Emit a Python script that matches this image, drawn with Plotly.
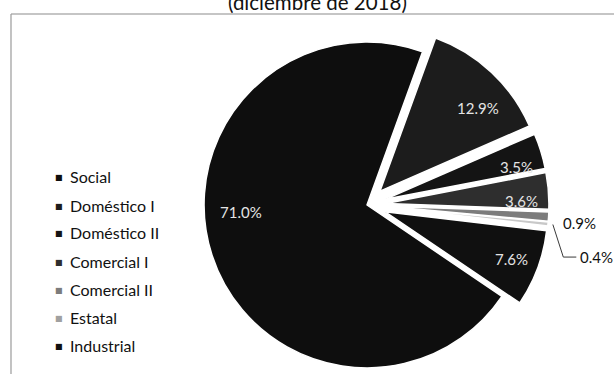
import math
import plotly.graph_objects as go

# Distribución por tarifa (diciembre de 2018)
categorias = ["Social", "Doméstico I", "Doméstico II", "Comercial I",
              "Comercial II", "Estatal", "Industrial"]
porcentajes = [71.0, 12.9, 3.5, 3.6, 0.9, 0.4, 7.6]
titulo = "(diciembre de 2018)"

# Estilo de cada sector
colores = ["#0e0e0e", "#1c1c1c", "#141414", "#2e2e2e", "#7c7c7c", "#c8c8c8", "#101010"]
separacion = [0.0, 0.117, 0.117, 0.117, 0.117, 0.117, 0.117]
# Ubicación de cada etiqueta: fracción del radio, ajuste angular (grados), dentro/fuera
pos_etiqueta = [(0.773, 14.8, "in"), (0.785, 6.5, "in"), (0.83, 3.5, "in"),
                (0.83, 3.3, "in"), (1.19, 1.3, "out"), (1.22, 8.6, "leader"),
                (0.83, 0.0, "in")]

W, H = 614, 410          # lienzo completo; la vista muestra los primeros 374 px
ROTACION = 124.1
dom_x = [0.3013, 0.8941]
FUENTE = "Lato, 'Open Sans', sans-serif"

fig = go.Figure(go.Pie(
    labels=categorias, values=porcentajes, sort=False, direction="clockwise",
    rotation=ROTACION, pull=separacion,
    marker=dict(colors=colores, line=dict(color="white", width=1.5)),
    textinfo="none", hoverinfo="label+percent", showlegend=False,
    domain=dict(x=dom_x, y=[0, 1]),
))

# Geometría del pastel según la misma regla que usa plotly
cx = W * (dom_x[0] + dom_x[1]) / 2
cy = H / 2
R = min(W * (dom_x[1] - dom_x[0]), H) / 2 / (1 + max(separacion))


def px(x):
    return x / W


def py(y):
    return 1 - y / H


def punto(ang, r, origen):
    a = math.radians(ang)
    return origen[0] + r * math.sin(a), origen[1] - r * math.cos(a)


anotaciones = []
formas = []
total = sum(porcentajes)
inicio = ROTACION
for v, p, (fr, dang, modo) in zip(porcentajes, separacion, pos_etiqueta):
    amplitud = 360 * v / total
    medio = inicio + amplitud / 2
    inicio += amplitud
    vertice = punto(medio, p * R, (cx, cy))
    lx, ly = punto(medio + dang, fr * R, vertice)
    texto = f"{v:.1f}%"
    if modo == "in":
        anotaciones.append(dict(x=px(lx), y=py(ly), text=texto, showarrow=False,
                                xanchor="center", yanchor="middle",
                                font=dict(family=FUENTE, size=15, color="#e4e4e4")))
    elif modo == "out":
        anotaciones.append(dict(x=px(lx), y=py(ly), text=texto, showarrow=False,
                                xanchor="center", yanchor="middle",
                                font=dict(family=FUENTE, size=15, color="#111111")))
    else:
        anotaciones.append(dict(x=px(lx), y=py(ly), text=texto, showarrow=False,
                                xanchor="left", yanchor="middle",
                                font=dict(family=FUENTE, size=15, color="#111111")))
        bx, by = punto(medio, R * 1.03, vertice)
        ex = lx - 15
        camino = (f"M{px(bx)},{py(by)} L{px(ex)},{py(ly)} L{px(lx - 2)},{py(ly)}")
        formas.append(dict(type="path", xref="paper", yref="paper", path=camino,
                           line=dict(color="#3a3a3a", width=1)))

# Leyenda a la izquierda
LEY_X, LEY_Y0, LEY_DY = 59, 177, 28
for i, (nombre, color) in enumerate(zip(categorias, colores)):
    yy = LEY_Y0 + LEY_DY * i
    anotaciones.append(dict(x=px(LEY_X), y=py(yy + 1), text="■", showarrow=False,
                            xanchor="center", yanchor="middle",
                            font=dict(family="DejaVu Sans", size=8,
                                      color=color if color != "#c8c8c8" else "#a0a0a0")))
    anotaciones.append(dict(x=px(LEY_X + 9), y=py(yy), text=nombre, showarrow=False,
                            xanchor="left", yanchor="middle",
                            font=dict(family=FUENTE, size=16, color="#111111")))

# Título, parcialmente fuera del borde superior
anotaciones.append(dict(x=px(317), y=py(1.5), text=titulo, showarrow=False,
                        xanchor="center", yanchor="middle",
                        font=dict(family=FUENTE, size=20.5, color="#111111")))

# Marco del gráfico (borde superior e izquierdo)
formas.append(dict(type="line", xref="paper", yref="paper",
                   x0=px(11), x1=1, y0=py(14), y1=py(14),
                   line=dict(color="#8c8c8c", width=1.2)))
formas.append(dict(type="line", xref="paper", yref="paper",
                   x0=px(11), x1=px(11), y0=py(14), y1=0,
                   line=dict(color="#9a9a9a", width=1.2)))

fig.update_layout(
    width=W, height=H, margin=dict(l=0, r=0, t=0, b=0),
    paper_bgcolor="white", plot_bgcolor="white",
    annotations=anotaciones, shapes=formas,
)

fig.write_html(
    "out.html",
    post_script=("var d=document.getElementById('{plot_id}');"
                 "d.style.height='374px';d.style.overflow='hidden';"
                 "document.body.style.margin='0';"),
)
